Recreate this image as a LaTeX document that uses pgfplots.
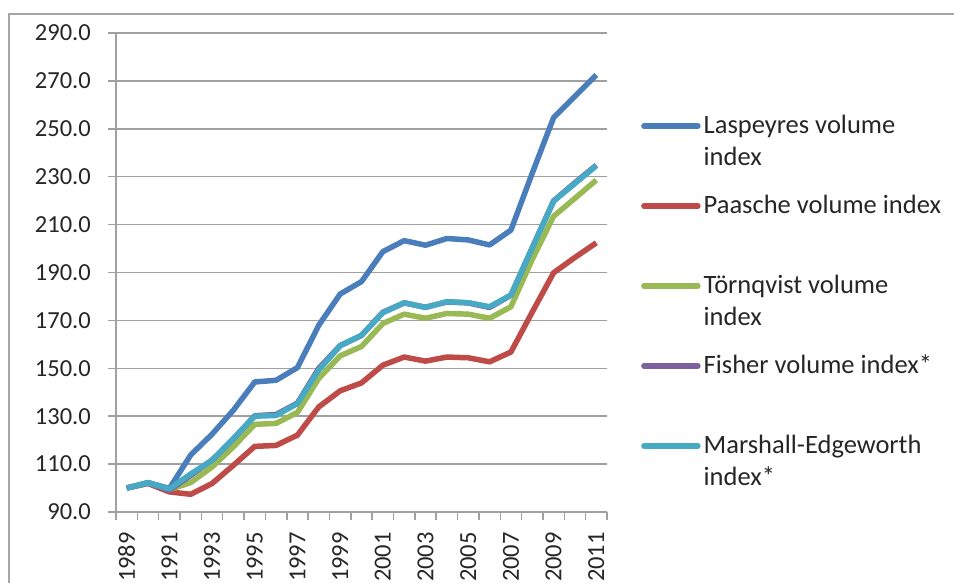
\documentclass[border=0pt]{standalone}
\usepackage{fontspec}
\setmainfont{Carlito}
\usepackage{pgfplots}
\usepackage{pgfplotstable}
\pgfplotsset{compat=1.18}
\definecolor{lasp}{HTML}{4A7EBB}
\definecolor{paas}{HTML}{BE4B48}
\definecolor{torn}{HTML}{98B954}
\definecolor{fish}{HTML}{7D60A0}
\definecolor{mars}{HTML}{46AAC5}
\definecolor{gridcol}{HTML}{A0A0A0}
\definecolor{bordercol}{HTML}{A6A6A6}
\definecolor{textcol}{HTML}{262626}
\newcommand{\fz}{\fontsize{24.5}{29}\selectfont}
\newcommand{\lz}{\fontsize{26.5}{32}\selectfont}
\pgfplotstableread{
i L P T F M
0 100.0 100.0 100.0 100.0 100.0
1 102.3 101.9 102.1 102.1 102.2
2 99.8 98.4 99.3 99.1 99.6
3 113.8 97.4 102.3 105.3 105.9
4 122.5 101.9 108.8 111.7 111.6
5 132.5 109.5 117.2 120.5 120.7
6 144.3 117.4 126.6 130.2 130.0
7 145.0 117.8 127.0 130.7 130.3
8 150.3 122.1 131.6 135.5 135.3
9 168.0 133.9 145.8 150.0 149.3
10 181.0 140.6 155.2 159.5 159.4
11 186.2 143.9 159.1 163.7 163.8
12 198.7 151.3 168.7 173.4 173.2
13 203.3 154.7 172.6 177.3 177.4
14 201.4 153.0 170.9 175.5 175.4
15 204.2 154.7 172.9 177.7 177.8
16 203.6 154.4 172.6 177.3 177.4
17 201.5 152.7 170.9 175.4 175.7
18 207.7 156.8 175.7 180.5 180.6
19 231.5 173.5 195.5 200.4 200.3
20 254.7 189.9 213.5 219.9 219.8
21 263.6 196.3 221.0 227.5 227.2
22 272.5 202.4 228.6 234.8 234.6
}\data
\begin{document}
\begin{tikzpicture}
\useasboundingbox (0pt,0pt) rectangle (954pt,582pt);
\clip (0pt,0pt) rectangle (954pt,582pt);
\draw[bordercol, line width=1.5pt] (9pt,-20pt) rectangle (980pt,568pt);
\begin{axis}[
  at={(116pt,70pt)}, anchor=south west,
  scale only axis, width=491pt, height=479pt,
  xmin=-0.5, xmax=22.5, ymin=90, ymax=290,
  ytick={90,110,...,290},
  yticklabels={90.0,110.0,130.0,150.0,170.0,190.0,210.0,230.0,250.0,270.0,290.0},
  xtick={0,2,...,22},
  xticklabels={1989,1991,1993,1995,1997,1999,2001,2003,2005,2007,2009,2011},
  minor xtick={-0.5,0.5,...,22.5},
  axis x line*=bottom, axis y line*=left,
  axis line style={gridcol, line width=1.5pt, -},
  ymajorgrids, grid style={gridcol, line width=1.5pt},
  tick align=outside,
  major tick length=8pt, minor tick length=8pt,
  tick style={gridcol, line width=1.5pt},
  major x tick style={draw=none},
  tick label style={font=\fz, text=textcol},
  yticklabel style={anchor=east, inner sep=0pt, xshift=-17pt},
  xticklabel style={rotate=90, anchor=east, inner sep=0pt, xshift=-12pt},
  legend style={at={(1.0692,0.472)}, anchor=west, draw=none, fill=none,
    inner sep=0pt, row sep=56pt, column sep=3pt, font=\lz,
    nodes={inner sep=0pt, text height=20pt, text depth=4pt, text=textcol}},
  legend cell align=left,
  legend image code/.code={\draw[#1, line cap=round] (0pt,0pt) -- (54pt,0pt);},
  every axis plot/.append style={line width=5.5pt, line join=round, no markers},
]
\addplot[color=lasp] table[x=i,y=L]{\data};
\addlegendentry{\rlap{\smash{\raisebox{-32pt}{index}}}Laspeyres volume}
\addplot[color=paas] table[x=i,y=P]{\data};
\addlegendentry{Paasche volume index}
\addplot[color=torn] table[x=i,y=T]{\data};
\addlegendentry{\rlap{\smash{\raisebox{-32pt}{index}}}Törnqvist volume}
\addplot[color=fish] table[x=i,y=F]{\data};
\addlegendentry{Fisher volume index*}
\addplot[color=mars] table[x=i,y=M]{\data};
\addlegendentry{\rlap{\smash{\raisebox{-32pt}{index*}}}Marshall-Edgeworth}
\end{axis}
\end{tikzpicture}
\end{document}
